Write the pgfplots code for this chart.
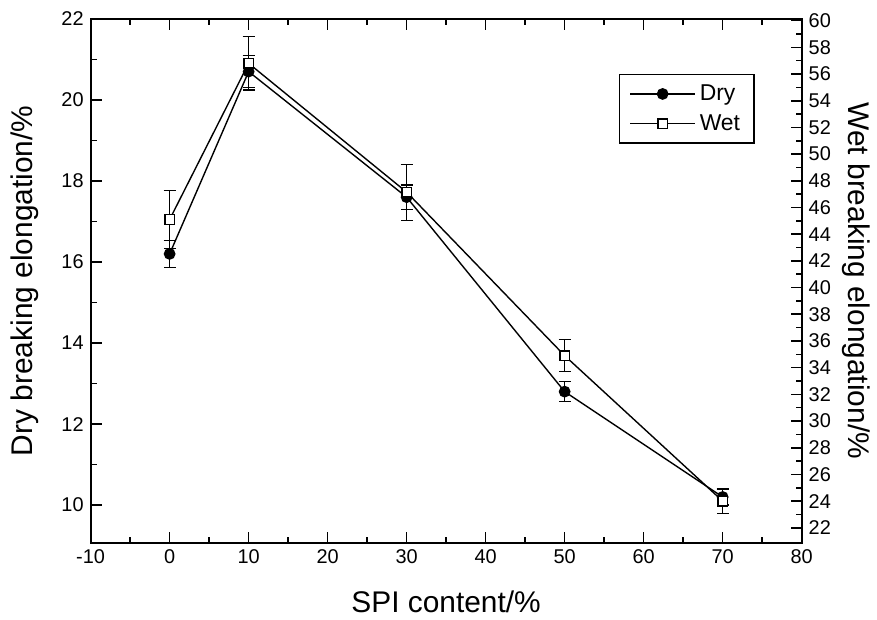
\documentclass[border=0pt]{standalone}
\usepackage{fontspec}
\setmainfont{Liberation Sans}
\usepackage{pgfplots}
\pgfplotsset{compat=1.18}

\pgfplotsset{
  common/.style={
    width=357pt, height=263pt, scale only axis,
    xmin=-10, xmax=80,
    /pgf/number format/assume math mode=true,
    tick label style={font=\fontsize{10}{12}\selectfont},
    label style={font=\fontsize{15}{18}\selectfont},
    axis line style={line width=1pt},
    major tick length=5.5pt, minor tick length=3pt,
    every tick/.style={black, line width=0.8pt},
    tick align=inside,
    legend image code/.code={\draw[mark repeat=2,mark phase=2,##1] plot coordinates {(0pt,0pt)(16.3pt,0pt)(32.6pt,0pt)};},
  },
  drystyle/.style={black, line width=0.7pt, mark=*, mark size=2.6pt, mark options={fill=black, solid}},
  wetstyle/.style={black, line width=0.7pt, mark=square*, mark size=2.4pt, mark options={fill=white, solid}},
  errstyle/.style={error bars/y dir=both, error bars/y explicit,
    error bars/error bar style={line width=0.6pt, black},
    error bars/error mark options={rotate=90, mark size=3pt, line width=0.6pt, black}},
}

\begin{document}
\begin{tikzpicture}
\begin{axis}[common, name=main,
  ymin=9.07, ymax=22,
  ytick={10,12,...,22}, minor y tick num=1,
  xtick={-10,0,...,80}, minor x tick num=1,
  xtick pos=both, ytick pos=left,
  xlabel={SPI content/\%},
  ylabel={Dry breaking elongation/\%},
  xlabel style={at={(axis description cs:0.5,0)}, anchor=center, yshift=-29.5pt},
  ylabel style={at={(axis description cs:0,0.5)}, anchor=center, yshift=33pt},
  legend style={at={(0.934,0.895)}, anchor=north east, draw=black, line width=0.7pt,
    font=\fontsize{11.5}{13}\selectfont, inner xsep=5pt, inner ysep=3pt, row sep=1.5pt},
  legend cell align=left,
]
\addplot[drystyle, errstyle] coordinates {
  (0,16.2)  +- (0,0.33)
  (10,20.7) +- (0,0.4)
  (30,17.6) +- (0,0.3)
  (50,12.8) +- (0,0.25)
  (70,10.2) +- (0,0.2)
};
\addlegendentry{Dry}
\addlegendimage{wetstyle}
\addlegendentry{Wet}
\end{axis}
\begin{axis}[common,
  ymin=20.88, ymax=60.13,
  ytick={22,24,...,60}, minor y tick num=1,
  axis x line=none, axis y line*=right,
  ylabel={Wet breaking elongation/\%},
  ylabel style={at={(axis description cs:1,0.5)}, anchor=center, rotate=180, yshift=27.5pt},
]
\addplot[wetstyle, errstyle] coordinates {
  (0,45.1)  +- (0,2.2)
  (10,56.8) +- (0,2.0)
  (30,47.15) +- (0,2.1)
  (50,34.9) +- (0,1.2)
  (70,24.0) +- (0,0.9)
};
\end{axis}
\path (main.south west) ++(-45.5pt,-38.5pt) rectangle ++(438.5pt,311pt);
\end{tikzpicture}
\end{document}
